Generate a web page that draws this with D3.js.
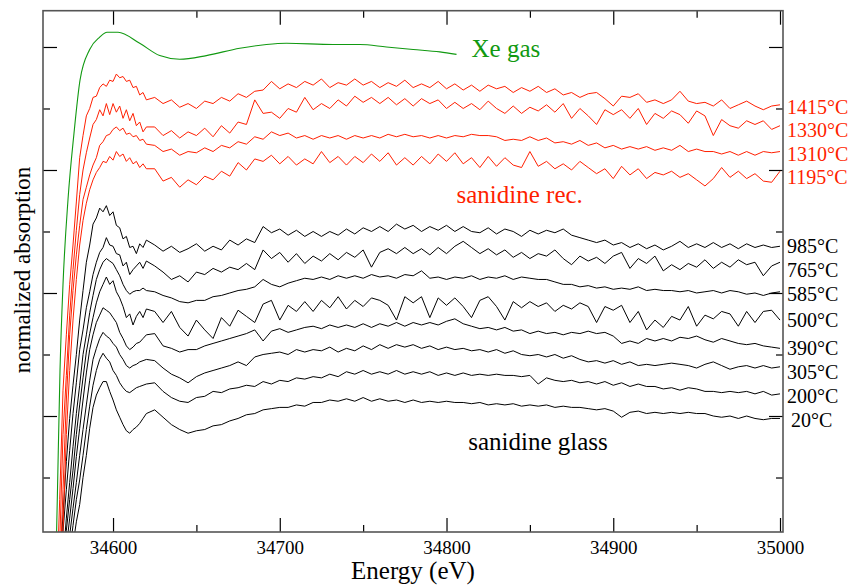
<!DOCTYPE html>
<html>
<head>
<meta charset="utf-8">
<script src="https://cdn.jsdelivr.net/npm/d3@7"></script>
<style>
  body { margin: 0; background: #fff; }
  svg text { font-family: 'Liberation Serif', 'Times New Roman', serif; }
</style>
</head>
<body>
<div id="chart"></div>
<script>
// energy grid (eV): fine steps through the edge, coarser above it
const energyA = [34566,34568,34570,34572,34574,34576,34578,34580,34582,34584,
  34586,34588,34590,34592,34594,34596,34598,34600,34602,34604,
  34606,34608,34610,34612,34614,34616,34618,34620];
const energyB = [34625,34630,34635,34640,34645,34650,34655,34660,34665,34670,
  34675,34680,34685,34690,34695,34700,34705,34710,34715,34720,
  34725,34730,34735,34740,34745,34750,34755,34760,34765,34770,
  34775,34780,34785,34790,34795,34800,34805,34810,34815,34820,
  34825,34830,34835,34840,34845,34850,34855,34860,34865,34870,
  34875,34880,34885,34890,34895,34900,34905,34910,34915,34920,
  34925,34930,34935,34940,34945,34950,34955,34960,34965,34970,
  34975,34980,34985,34990,34995,35000];
const energy = energyA.concat(energyB);

// Xe gas reference
const xeEnergy = [34565,34566.6,34568.2,34570,34573,34576.6,34580.2,34586,34592,34596.4,
  34603,34616,34628,34640,34656,34676,34692,34704,34732,34748,34764,34780,34796,34806];
const xeGas = [-0.66,0.34,1.37,2.07,2.76,3.30,3.73,3.98,4.08,4.12,
  4.12,4.03,3.93,3.90,3.93,3.99,4.02,4.03,4.02,4.02,4.00,3.98,3.96,3.94];

// recrystallised sanidine (offset spectra)
const t1415 = [-0.50,0.32,1.21,1.66,2.07,2.39,2.74,3.10,3.28,3.44,
  3.50,3.59,3.60,3.67,3.70,3.68,3.73,3.72,3.78,3.75,
  3.76,3.72,3.73,3.67,3.68,3.61,3.63,3.57,
  3.59,3.54,3.57,3.51,3.54,3.50,3.56,3.54,3.59,3.56,
  3.62,3.59,3.64,3.65,3.72,3.66,3.70,3.67,3.72,3.69,
  3.74,3.67,3.71,3.69,3.74,3.69,3.72,3.67,3.71,3.68,
  3.73,3.67,3.70,3.67,3.72,3.66,3.70,3.65,3.69,3.64,
  3.69,3.66,3.68,3.63,3.67,3.64,3.68,3.63,3.66,3.61,
  3.63,3.59,3.62,3.63,3.58,3.52,3.60,3.59,3.62,3.55,
  3.57,3.54,3.57,3.64,3.56,3.54,3.55,3.52,3.57,3.50,
  3.53,3.56,3.52,3.49,3.52,3.53];
const t1330 = [-0.90,-0.05,0.85,1.33,1.82,2.19,2.51,2.80,3.00,3.14,
  3.26,3.37,3.41,3.49,3.44,3.54,3.45,3.54,3.47,3.52,
  3.42,3.49,3.40,3.46,3.36,3.39,3.31,3.35,
  3.35,3.28,3.32,3.26,3.31,3.28,3.34,3.27,3.36,3.30,
  3.39,3.37,3.57,3.46,3.47,3.42,3.50,3.47,3.59,3.49,
  3.54,3.50,3.57,3.52,3.60,3.55,3.59,3.54,3.59,3.53,
  3.58,3.52,3.58,3.54,3.57,3.50,3.55,3.50,3.54,3.49,
  3.56,3.50,3.46,3.52,3.46,3.51,3.48,3.53,3.47,3.54,
  3.42,3.50,3.44,3.37,3.49,3.45,3.49,3.42,3.50,3.37,
  3.46,3.42,3.48,3.45,3.38,3.48,3.44,3.28,3.41,3.36,
  3.34,3.40,3.37,3.40,3.33,3.36];
const t1310 = [-1.15,-0.33,0.40,1.13,1.66,2.02,2.31,2.55,2.76,2.86,
  2.96,3.04,3.10,3.20,3.23,3.28,3.29,3.33,3.35,3.32,
  3.34,3.29,3.30,3.27,3.28,3.24,3.25,3.21,
  3.20,3.15,3.17,3.12,3.15,3.14,3.18,3.15,3.20,3.18,
  3.23,3.21,3.27,3.25,3.31,3.28,3.30,3.26,3.28,3.25,
  3.28,3.26,3.28,3.25,3.28,3.26,3.28,3.26,3.29,3.27,
  3.29,3.27,3.28,3.26,3.28,3.26,3.28,3.27,3.29,3.28,
  3.28,3.27,3.24,3.25,3.24,3.27,3.24,3.26,3.22,3.23,
  3.21,3.24,3.20,3.22,3.18,3.20,3.17,3.19,3.17,3.19,
  3.16,3.18,3.16,3.20,3.15,3.17,3.15,3.15,3.13,3.15,
  3.12,3.15,3.12,3.15,3.14,3.15];
const t1195 = [-1.31,-0.58,0.06,0.85,1.37,1.78,2.11,2.39,2.59,2.73,
  2.84,2.92,2.98,3.02,3.07,3.06,3.11,3.08,3.15,3.11,
  3.13,3.07,3.10,3.05,3.07,3.02,3.05,3.01,
  3.01,2.91,2.94,2.86,2.92,2.88,2.95,2.92,2.99,2.95,
  3.06,3.00,3.09,3.07,3.12,3.05,3.11,3.04,3.09,3.05,
  3.15,3.06,3.11,3.04,3.11,3.06,3.13,3.07,3.14,3.04,
  3.10,3.04,3.11,3.05,3.13,3.07,3.14,3.05,3.10,3.02,
  3.11,3.03,3.10,3.04,3.02,3.15,3.03,3.07,3.01,3.05,
  3.00,3.07,3.02,2.97,3.01,2.93,3.03,2.96,3.01,2.93,
  2.98,2.96,2.99,2.94,2.97,2.92,2.87,2.93,3.02,2.94,
  2.99,2.93,2.97,2.91,2.90,2.99];

// sanidine glass (offset spectra)
const t985 = [-0.82,-0.25,0.20,0.63,0.98,1.25,1.50,1.78,2.02,2.25,
  2.39,2.56,2.61,2.69,2.66,2.71,2.63,2.66,2.55,2.53,
  2.44,2.46,2.37,2.38,2.32,2.40,2.37,2.43,
  2.39,2.34,2.38,2.33,2.36,2.40,2.34,2.38,2.35,2.43,
  2.39,2.44,2.41,2.54,2.49,2.52,2.47,2.51,2.46,2.50,
  2.46,2.50,2.47,2.52,2.48,2.53,2.50,2.54,2.50,2.56,
  2.52,2.55,2.50,2.54,2.51,2.55,2.50,2.54,2.50,2.49,
  2.53,2.48,2.52,2.50,2.46,2.51,2.48,2.51,2.49,2.52,
  2.47,2.45,2.43,2.41,2.43,2.39,2.41,2.37,2.40,2.36,
  2.39,2.35,2.38,2.42,2.37,2.40,2.37,2.41,2.37,2.40,
  2.36,2.40,2.37,2.39,2.37,2.38];
const t765 = [-0.98,-0.41,0.06,0.40,0.72,1.02,1.27,1.54,1.70,1.88,
  2.01,2.15,2.25,2.33,2.37,2.45,2.39,2.38,2.32,2.31,
  2.22,2.25,2.15,2.19,2.22,2.25,2.20,2.26,
  2.22,2.17,2.11,2.14,2.09,2.17,2.15,2.20,2.17,2.21,
  2.19,2.24,2.19,2.35,2.28,2.33,2.25,2.32,2.24,2.30,
  2.26,2.32,2.27,2.33,2.29,2.35,2.21,2.33,2.36,2.32,
  2.37,2.32,2.36,2.31,2.37,2.32,2.38,2.42,2.37,2.32,
  2.36,2.31,2.35,2.29,2.33,2.28,2.32,2.30,2.35,2.28,
  2.23,2.30,2.26,2.29,2.24,2.30,2.33,2.20,2.28,2.24,
  2.30,2.18,2.23,2.19,2.24,2.21,2.27,2.20,2.25,2.21,
  2.27,2.23,2.25,2.14,2.22,2.25];
const t585 = [-1.31,-0.74,-0.17,0.17,0.46,0.75,1.02,1.25,1.50,1.66,
  1.84,1.98,2.11,2.19,2.25,2.28,2.26,2.24,2.19,2.14,
  2.07,2.02,1.99,2.01,2.02,2.02,2.04,2.02,
  2.01,1.98,1.96,1.93,1.92,1.94,1.94,1.97,1.98,2.00,
  2.02,2.03,2.05,2.11,2.07,2.05,2.08,2.10,2.12,2.11,
  2.13,2.11,2.14,2.12,2.14,2.12,2.15,2.13,2.14,2.12,
  2.15,2.14,2.18,2.12,2.13,2.11,2.13,2.12,2.14,2.11,
  2.13,2.12,2.14,2.11,2.13,2.12,2.11,2.11,2.09,2.07,
  2.07,2.05,2.06,2.04,2.05,2.03,2.04,2.03,2.05,2.02,
  2.03,2.02,2.02,2.01,2.02,2.00,2.01,2.02,2.00,2.02,
  2.01,1.99,2.00,1.98,2.00,2.01];
const t500 = [-1.48,-0.90,-0.33,0.07,0.32,0.56,0.85,1.09,1.31,1.52,
  1.67,1.80,1.92,2.01,2.07,2.13,2.07,2.10,2.01,1.96,
  1.89,1.80,1.83,1.74,1.81,1.85,1.80,1.87,
  1.85,1.76,1.85,1.72,1.65,1.78,1.70,1.63,1.80,1.73,
  1.86,1.81,1.76,1.91,1.94,1.78,1.90,1.85,1.93,1.85,
  1.94,1.88,1.97,1.87,1.94,1.89,1.96,1.94,1.90,1.78,
  1.97,1.92,1.97,1.80,1.96,1.90,1.96,1.89,1.80,1.94,
  1.97,1.89,1.78,1.93,1.88,1.93,1.89,1.92,1.85,1.90,
  1.87,1.92,1.89,1.76,1.89,1.86,1.90,1.76,1.85,1.70,
  1.78,1.72,1.81,1.78,1.89,1.73,1.82,1.79,1.85,1.83,
  1.73,1.85,1.76,1.85,1.86,1.78];
const t390 = [-1.63,-1.07,-0.50,-0.07,0.17,0.41,0.67,0.90,1.13,1.35,
  1.54,1.66,1.76,1.82,1.88,1.86,1.84,1.80,1.76,1.68,
  1.63,1.57,1.54,1.56,1.59,1.60,1.63,1.66,
  1.67,1.57,1.55,1.52,1.54,1.54,1.57,1.59,1.61,1.63,
  1.65,1.67,1.70,1.61,1.69,1.71,1.68,1.70,1.72,1.73,
  1.71,1.74,1.72,1.74,1.72,1.75,1.72,1.75,1.73,1.76,
  1.73,1.76,1.74,1.76,1.74,1.77,1.79,1.75,1.73,1.71,
  1.72,1.70,1.72,1.69,1.70,1.67,1.69,1.67,1.68,1.66,
  1.68,1.67,1.69,1.67,1.68,1.65,1.59,1.61,1.59,1.63,
  1.61,1.63,1.61,1.64,1.63,1.65,1.62,1.60,1.63,1.61,
  1.59,1.58,1.59,1.57,1.56,1.55];
const t305 = [-1.80,-1.23,-0.70,-0.28,0.03,0.25,0.46,0.68,0.89,1.09,
  1.29,1.46,1.55,1.63,1.68,1.65,1.63,1.59,1.56,1.50,
  1.46,1.41,1.39,1.41,1.42,1.44,1.45,1.46,
  1.45,1.39,1.34,1.31,1.27,1.32,1.35,1.37,1.39,1.41,
  1.44,1.41,1.48,1.50,1.51,1.52,1.50,1.54,1.52,1.54,
  1.53,1.56,1.52,1.55,1.53,1.57,1.54,1.58,1.55,1.58,
  1.56,1.58,1.55,1.57,1.54,1.56,1.54,1.55,1.53,1.54,
  1.52,1.54,1.51,1.53,1.50,1.49,1.50,1.48,1.50,1.47,
  1.49,1.46,1.44,1.45,1.43,1.45,1.42,1.44,1.41,1.42,
  1.41,1.42,1.43,1.42,1.41,1.39,1.42,1.44,1.41,1.38,
  1.40,1.41,1.39,1.41,1.39,1.40];
const t200 = [-1.96,-1.39,-0.86,-0.43,-0.11,0.11,0.32,0.48,0.68,0.89,
  1.08,1.25,1.37,1.46,1.51,1.47,1.44,1.37,1.33,1.27,
  1.23,1.20,1.19,1.21,1.23,1.24,1.25,1.26,
  1.27,1.20,1.15,1.12,1.11,1.15,1.16,1.20,1.19,1.22,
  1.23,1.25,1.24,1.28,1.26,1.29,1.28,1.31,1.30,1.32,
  1.31,1.34,1.32,1.36,1.34,1.37,1.34,1.36,1.34,1.37,
  1.34,1.36,1.34,1.36,1.33,1.35,1.33,1.35,1.33,1.34,
  1.33,1.34,1.33,1.33,1.32,1.33,1.26,1.31,1.29,1.28,
  1.29,1.27,1.28,1.26,1.28,1.25,1.27,1.24,1.26,1.24,
  1.24,1.22,1.23,1.21,1.23,1.22,1.20,1.20,1.19,1.20,
  1.19,1.20,1.18,1.20,1.17,1.18];
const t20 = [-2.12,-1.63,-1.15,-0.66,-0.29,-0.05,0.14,0.28,0.50,0.68,
  0.90,1.07,1.17,1.23,1.28,1.28,1.20,1.13,1.05,0.99,
  0.93,0.88,0.86,0.89,0.91,0.94,0.98,1.02,
  1.05,0.99,0.93,0.89,0.86,0.88,0.89,0.92,0.93,0.96,
  0.98,1.01,1.02,1.05,1.06,1.07,1.07,1.09,1.08,1.11,
  1.11,1.13,1.12,1.14,1.12,1.15,1.12,1.14,1.12,1.13,
  1.11,1.13,1.11,1.12,1.11,1.12,1.11,1.11,1.10,1.11,
  1.09,1.10,1.09,1.10,1.08,1.09,1.08,1.09,1.07,1.08,
  1.07,1.07,1.06,1.05,1.06,1.04,0.99,1.03,1.04,1.02,
  1.03,1.02,1.03,1.02,1.03,1.02,1.02,1.00,0.99,1.00,
  0.98,1.00,0.98,0.97,0.98,0.98];

const recLabels = ["1415°C", "1330°C", "1310°C", "1195°C"];
const glassLabels = ["985°C", "765°C", "585°C", "500°C", "390°C", "305°C", "200°C", "20°C"];
const recSpectra = [t1415, t1330, t1310, t1195];
const glassSpectra = [t985, t765, t585, t500, t390, t305, t200, t20];

const xMajor = [34600, 34700, 34800, 34900, 35000];
const xMinor = [34650, 34750, 34850, 34950];
const yMajor = [1, 2, 3, 4];
const yMinor = [0.5, 1.5, 2.5, 3.5];

const RED = "#ff1f00", GREEN = "#119911";
const SERIF = "'Liberation Serif', 'Times New Roman', serif";

const width = 865, height = 585;
const svg = d3.select("#chart").append("svg")
  .attr("width", width)
  .attr("height", height)
  .style("background", "#fff");

// scales
const x = d3.scaleLinear().domain([34558, 35001.8]).range([43, 783]);
const y = d3.scaleLinear().domain([0.057, 4.295]).range([532, 10.7]);
const [x0, x1] = x.range();
const [yb, yt] = y.range();

svg.append("clipPath").attr("id", "plot")
  .append("rect")
  .attr("x", x0).attr("y", yt)
  .attr("width", x1 - x0).attr("height", yb - yt);

const line = d3.line()
  .defined(d => d[1] != null)
  .x(d => x(d[0]))
  .y(d => y(d[1]));

const curves = svg.append("g").attr("clip-path", "url(#plot)");

glassSpectra.forEach(vals => {
  curves.append("path")
    .datum(energy.map((e, i) => [e, vals[i]]))
    .attr("fill", "none")
    .attr("stroke", "#000")
    .attr("stroke-width", 1)
    .attr("d", line);
});

recSpectra.forEach(vals => {
  curves.append("path")
    .datum(energy.map((e, i) => [e, vals[i]]))
    .attr("fill", "none")
    .attr("stroke", RED)
    .attr("stroke-width", 1)
    .attr("d", line);
});

curves.append("path")
  .datum(xeEnergy.map((e, i) => [e, xeGas[i]]))
  .attr("fill", "none")
  .attr("stroke", GREEN)
  .attr("stroke-width", 1.1)
  .attr("d", line.curve(d3.curveMonotoneX));

// axes: ticks point inward, no domain line (frame drawn separately)
function tidy(g) {
  g.attr("font-family", SERIF).attr("font-size", 19);
  g.select(".domain").remove();
  g.selectAll(".tick line").attr("stroke", "#000").attr("stroke-width", 1.2);
}

svg.append("g")
  .attr("transform", `translate(0,${yb})`)
  .call(d3.axisBottom(x).tickValues(xMajor).tickSize(-14).tickPadding(9).tickFormat(d3.format("d")))
  .call(tidy)
  .call(g => g.selectAll("text").attr("fill", "#000"));

svg.append("g")
  .attr("transform", `translate(0,${yb})`)
  .call(d3.axisBottom(x).tickValues(xMinor).tickSize(-7).tickFormat(""))
  .call(tidy);

svg.append("g")
  .attr("transform", `translate(0,${yt})`)
  .call(d3.axisTop(x).tickValues(xMajor).tickSize(-14).tickFormat(""))
  .call(tidy);

svg.append("g")
  .attr("transform", `translate(0,${yt})`)
  .call(d3.axisTop(x).tickValues(xMinor).tickSize(-7).tickFormat(""))
  .call(tidy);

svg.append("g")
  .attr("transform", `translate(${x0},0)`)
  .call(d3.axisLeft(y).tickValues(yMajor).tickSize(-14).tickFormat(""))
  .call(tidy);

svg.append("g")
  .attr("transform", `translate(${x0},0)`)
  .call(d3.axisLeft(y).tickValues(yMinor).tickSize(-7).tickFormat(""))
  .call(tidy);

svg.append("g")
  .attr("transform", `translate(${x1},0)`)
  .call(d3.axisRight(y).tickValues(yMajor).tickSize(-14).tickFormat(""))
  .call(tidy);

svg.append("g")
  .attr("transform", `translate(${x1},0)`)
  .call(d3.axisRight(y).tickValues(yMinor).tickSize(-7).tickFormat(""))
  .call(tidy);

// frame
svg.append("rect")
  .attr("x", x0).attr("y", yt)
  .attr("width", x1 - x0).attr("height", yb - yt)
  .attr("fill", "none")
  .attr("stroke", "#555")
  .attr("stroke-width", 1.6);

// axis titles
svg.append("text")
  .attr("x", (x0 + x1) / 2)
  .attr("y", 579)
  .attr("text-anchor", "middle")
  .style("font-size", "25px")
  .text("Energy (eV)");

svg.append("text")
  .attr("transform", "translate(30,270) rotate(-90)")
  .attr("text-anchor", "middle")
  .style("font-size", "23px")
  .text("normalized absorption");

// temperature labels next to each spectrum's end, pushed apart so they don't collide
function placeLabels(spectra, names, color, offset, gap) {
  let prev = -Infinity;
  spectra.forEach((vals, i) => {
    let ly = y(vals[vals.length - 1]) + offset;
    if (ly < prev + gap) ly = prev + gap;
    prev = ly;
    svg.append("text")
      .attr("x", x1 + (names[i].length < 5 ? 8 : 4))
      .attr("y", ly)
      .attr("dy", "0.35em")
      .style("font-size", "20px")
      .attr("fill", color)
      .text(names[i]);
  });
}
placeLabels(recSpectra, recLabels, RED, 2, 23);
placeLabels(glassSpectra, glassLabels, "#000", 0, 24);

// group annotations
svg.append("text")
  .attr("x", x(34815)).attr("y", y(3.92))
  .style("font-size", "25px")
  .attr("fill", GREEN)
  .text("Xe gas");

svg.append("text")
  .attr("x", x(34806)).attr("y", y(2.73))
  .style("font-size", "25px")
  .attr("fill", RED)
  .text("sanidine rec.");

svg.append("text")
  .attr("x", x(34813)).attr("y", y(0.72))
  .style("font-size", "25px")
  .attr("fill", "#000")
  .text("sanidine glass");
</script>
</body>
</html>
